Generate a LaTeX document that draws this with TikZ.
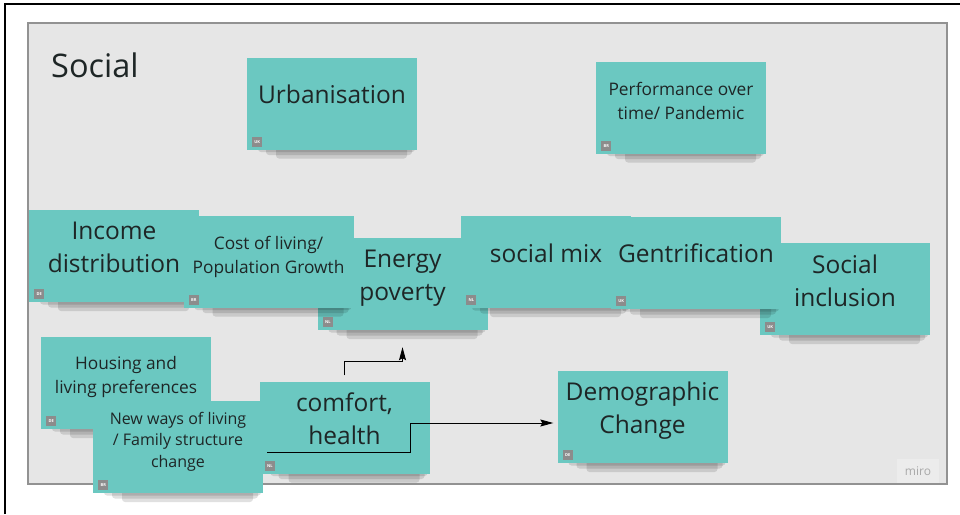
\documentclass[tikz,border=0pt]{standalone}
\usepackage{fontspec}
\setmainfont{Open Sans}
\usetikzlibrary{calc,arrows.meta}

\definecolor{notefill}{HTML}{6BC8C1}
\definecolor{panelfill}{HTML}{E6E6E6}
\definecolor{panelline}{HTML}{929292}
\definecolor{tagfill}{HTML}{8C8C8C}
\definecolor{inktext}{HTML}{1E2626}
\definecolor{logotext}{HTML}{A9A9A9}
\definecolor{logofill}{HTML}{ECECEC}

% sticky note: name, centre, tag, text style, lift of the text, text
\newcommand{\stickynote}[6]{%
  \fill[noteshadow] ($(#2)+(-74,30)$) rectangle ($(#2)+(83,48.5)$);
  \fill[noteshadow] ($(#2)+(-66,30)$) rectangle ($(#2)+(80,51.5)$);
  \fill[noteshadow] ($(#2)+(-56,30)$) rectangle ($(#2)+(75,55)$);
  \node[note] (#1) at (#2) {};
  \node[tagbox] (#1-tag) at ($(#1.south west)+(10.5,-8)$) {#3};
  \node[#4] (#1-text) at ([yshift=#5]#1.center) {#6};
}

\begin{document}
\begin{tikzpicture}
  [x=1pt,y=-1pt,
   note/.style={rectangle,fill=notefill,minimum width=170pt,minimum height=92pt,inner sep=0pt},
   noteshadow/.style={black,opacity=0.12,rounded corners=3pt},
   bigtext/.style={text=inktext,align=center,inner sep=0pt,font=\fontsize{24.5}{33}\selectfont},
   midtext/.style={text=inktext,align=center,inner sep=0pt,font=\fontsize{17.3}{24}\selectfont},
   smalltext/.style={text=inktext,align=center,inner sep=0pt,font=\fontsize{16}{21.5}\selectfont},
   tagbox/.style={fill=tagfill,text=white,minimum size=10pt,inner sep=0pt,font=\fontsize{4}{4}\selectfont\bfseries},
   conn/.style={draw=black,line width=0.9pt,-{Stealth[length=13pt,width=7pt,inset=2pt]}}]

  \useasboundingbox (0,0) rectangle (960,514);

  % frame and board
  \draw[line width=2pt] (5,514) -- (5,4) -- (960,4);
  \draw[fill=panelfill,draw=panelline,line width=1.3pt] (28,23) rectangle (947,484);
  \node[anchor=base west,inner sep=0pt,text=inktext,font=\fontsize{32.5}{36}\selectfont] (title) at (51,77) {Social};
  \node[fill=logofill,minimum width=42pt,minimum height=24pt,text=logotext,font=\fontsize{12}{12}\selectfont] (logo) at (918,471) {miro};

  % notes, back to front
  \stickynote{urban}{332,103.5}{UK}{bigtext}{9}{Urbanisation}
  \stickynote{perform}{681,107.5}{BR}{midtext}{6.7}{Performance over\\time/ Pandemic}
  \stickynote{income}{114,256}{DE}{bigtext}{8.3}{Income\\distribution}
  \stickynote{energy}{402.5,284}{NL}{bigtext}{6}{Energy\\poverty}
  \stickynote{cost}{268.5,261.5}{BR}{midtext}{4.7}{Cost of living/\\Population Growth}
  \stickynote{mix}{546,262}{NL}{bigtext}{8.6}{social mix}
  \stickynote{inclusion}{845,289}{UK}{bigtext}{8.6}{Social\\inclusion}
  \stickynote{gentri}{696,263}{UK}{bigtext}{9.6}{Gentrification}
  \stickynote{housing}{126,383}{DE}{midtext}{6.2}{Housing and\\living preferences}
  \stickynote{comfort}{344.5,427.5}{NL}{bigtext}{8.5}{comfort,\\health}
  \stickynote{newways}{178,447}{BR}{smalltext}{5.7}{New ways of living\\/ Family structure\\change}
  \stickynote{demo}{642.5,417}{DE}{bigtext}{6}{Demographic\\Change}

  % connectors
  \coordinate (comfort-out) at ([yshift=6pt]comfort.north);
  \coordinate (energy-in) at ([yshift=-17pt]energy.south);
  \coordinate (newways-out) at ([xshift=4pt,yshift=-5pt]newways.east);
  \coordinate (demo-in) at ([xshift=-4pt,yshift=-6pt]demo.west);

  \draw[conn] (comfort-out) |- ($(comfort-out)!.5!(energy-in)$) -| (energy-in);
  \draw[conn] (newways-out) -| ($(newways-out)!.5!(demo-in)$) |- (demo-in);
\end{tikzpicture}
\end{document}
